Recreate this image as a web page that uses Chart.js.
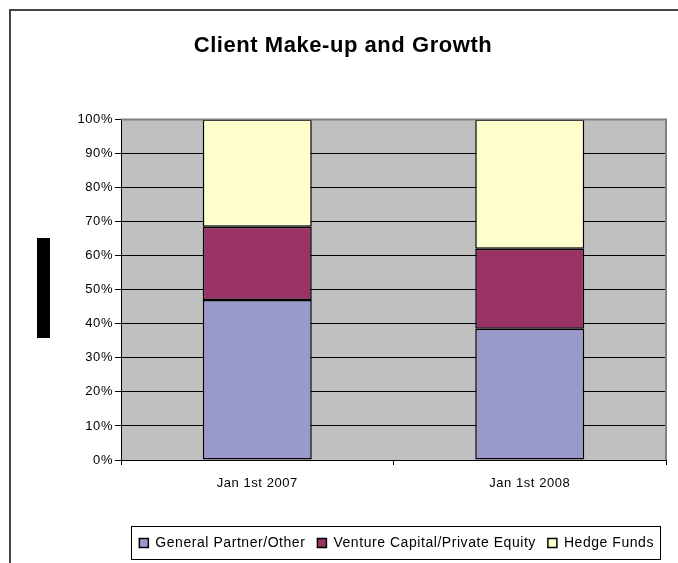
<!DOCTYPE html>
<html>
<head>
<meta charset="utf-8">
<script src="https://cdn.jsdelivr.net/npm/chart.js@4/dist/chart.umd.min.js"></script>
<style>
  html, body { margin: 0; padding: 0; background: #fff; }
  #wrap { width: 678px; height: 563px; }
</style>
</head>
<body>
<div id="wrap"><canvas id="chart" width="678" height="563"></canvas></div>
<script>
const categories = ['Jan 1st 2007', 'Jan 1st 2008'];
const generalPartner = [47, 38.5];
const ventureCapital = [21.5, 23.5];
const hedgeFunds = [31.5, 38];
const yTicks = [0, 10, 20, 30, 40, 50, 60, 70, 80, 90, 100];

const font = "'Liberation Sans', Arial, sans-serif";

// the original text is set a little loose
const spacing = {
    id: 'spacing',
    beforeUpdate(chart) { chart.ctx.letterSpacing = '0.55px'; },
    beforeDraw(chart) { chart.ctx.letterSpacing = '0.55px'; }
};

// plot background, outer frame, legend frame etc.
const decor = {
    id: 'decor',
    beforeDraw(chart) {
        const c = chart.ctx, a = chart.chartArea;
        c.save();
        c.fillStyle = '#fff';
        c.fillRect(0, 0, chart.width, chart.height);
        c.fillStyle = '#C0C0C0';
        c.fillRect(a.left, a.top, a.right - a.left, a.bottom - a.top);
        c.restore();
    },
    afterDraw(chart) {
        const c = chart.ctx, a = chart.chartArea;
        c.save();
        // top / right edge of plot area
        c.strokeStyle = '#808080';
        c.lineWidth = 2;
        c.beginPath();
        c.moveTo(a.left, a.top);
        c.lineTo(a.right, a.top);
        c.lineTo(a.right, a.bottom);
        c.stroke();
        // outer chart frame
        c.strokeStyle = '#444';
        c.lineWidth = 2;
        c.strokeRect(10, 10, 800, 800);
        // black block left of the axis
        c.fillStyle = '#000';
        c.fillRect(37, 238, 13, 100);
        // legend frame
        const hb = chart.legend.legendHitBoxes;
        if (hb && hb.length) {
            let l = Infinity, r = -Infinity, t = Infinity, b = -Infinity;
            hb.forEach(h => {
                l = Math.min(l, h.left); r = Math.max(r, h.left + h.width);
                t = Math.min(t, h.top); b = Math.max(b, h.top + h.height);
            });
            c.strokeStyle = '#000';
            c.lineWidth = 1;
            c.strokeRect(Math.round(l - 8) + 0.5, Math.round(t - 10) + 0.5, Math.round(r - l + 14), Math.round(b - t + 19));
        }
        c.restore();
    }
};

new Chart(document.getElementById('chart'), {
    type: 'bar',
    data: {
        labels: categories,
        datasets: [
            {
                label: 'General Partner/Other',
                data: generalPartner,
                backgroundColor: '#9999CC',
                borderColor: '#000',
                borderWidth: 1.5,
                borderSkipped: false,
                inflateAmount: 0
            },
            {
                label: 'Venture Capital/Private Equity',
                data: ventureCapital,
                backgroundColor: '#993366',
                borderColor: '#000',
                borderWidth: 1.5,
                borderSkipped: false,
                inflateAmount: 0
            },
            {
                label: 'Hedge Funds',
                data: hedgeFunds,
                backgroundColor: '#FFFFCC',
                borderColor: '#000',
                borderWidth: 1.5,
                borderSkipped: false,
                inflateAmount: 0
            }
        ]
    },
    options: {
        responsive: false,
        animation: false,
        devicePixelRatio: 1,
        categoryPercentage: 1,
        barPercentage: 0.4,
        layout: {
            padding: { top: 10, right: 12, bottom: 3, left: 20 }
        },
        plugins: {
            tooltip: { enabled: false },
            title: {
                display: true,
                text: 'Client Make-up and Growth',
                color: '#000',
                font: { family: font, size: 22, weight: 'bold' },
                padding: { top: 23, bottom: 60 }
            },
            legend: {
                position: 'bottom',
                align: 'end',
                labels: {
                    color: '#000',
                    font: { family: font, size: 14 },
                    boxWidth: 9,
                    boxHeight: 9,
                    padding: 12
                }
            }
        },
        scales: {
            x: {
                stacked: true,
                afterFit(scale) { scale.height = 64; },
                border: { color: '#000', width: 1 },
                grid: {
                    offset: true,
                    drawOnChartArea: false,
                    color: '#000',
                    tickLength: 5
                },
                ticks: {
                    color: '#000',
                    font: { family: font, size: 13 },
                    padding: 11
                }
            },
            y: {
                stacked: true,
                min: 0,
                max: 100,
                afterFit(scale) { scale.width = 101; },
                afterBuildTicks(scale) { scale.ticks = yTicks.map(v => ({ value: v })); },
                border: { color: '#000', width: 1 },
                grid: {
                    color: '#000',
                    tickLength: 6
                },
                ticks: {
                    color: '#000',
                    font: { family: font, size: 13 },
                    padding: 2,
                    callback: v => v + '%'
                }
            }
        }
    },
    plugins: [spacing, decor]
});
</script>
</body>
</html>
